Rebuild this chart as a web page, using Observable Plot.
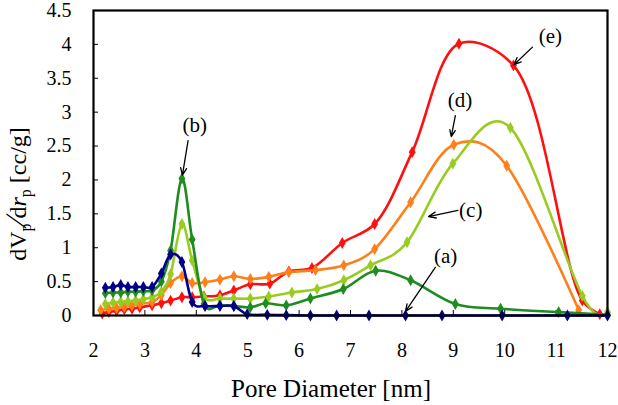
<!DOCTYPE html>
<html><head><meta charset="utf-8">
<script src="https://cdn.jsdelivr.net/npm/d3@7"></script>
<script src="https://cdn.jsdelivr.net/npm/@observablehq/plot@0.6"></script>
<style>
body{margin:0;background:#fff}
#chart svg{display:block}
</style>
</head><body><div id="chart"></div>
<script>
const xTicks = [2,3,4,5,6,7,8,9,10,11,12];
const yTicks = [0,0.5,1,1.5,2,2.5,3,3.5,4,4.5];

const keys = ["a","b","c","d","e"];
const colors = ["#00008B","#1E8C1E","#99CC22","#FF7F1A","#FF1010"];

const xA = [2.23,2.38,2.53,2.67,2.82,2.97,3.14,3.32,3.50,3.72,3.92,4.17,4.46,4.73,4.99,5.38,5.75,6.22,6.73,7.36,8.07,8.78,9.95,11.22,12.0];
const yA = [0.41,0.42,0.45,0.42,0.42,0.42,0.42,0.62,0.90,0.79,0.20,0.14,0.14,0.14,0.02,0.01,0.005,0,0,0,0,0,0,0,0];

const xB = [2.23,2.38,2.53,2.67,2.82,2.97,3.14,3.32,3.50,3.72,3.92,4.15,4.46,4.73,5.05,5.35,5.75,6.22,6.86,7.49,8.17,9.04,9.92,11.05,12.0];
const yB = [0.33,0.34,0.34,0.35,0.35,0.36,0.37,0.50,0.96,2.02,1.12,0.17,0.15,0.14,0.12,0.18,0.15,0.25,0.39,0.66,0.52,0.17,0.10,0.05,0.01];

const xC = [2.23,2.38,2.53,2.67,2.82,2.97,3.14,3.32,3.50,3.72,3.92,4.15,4.46,4.73,5.05,5.41,5.86,6.35,6.87,7.39,8.10,8.99,10.11,11.51,12.0];
const yC = [0.17,0.19,0.20,0.21,0.22,0.24,0.27,0.35,0.61,1.35,0.81,0.27,0.25,0.25,0.25,0.28,0.34,0.39,0.52,0.74,1.08,2.24,2.77,0.29,0.05];

const xD = [2.14,2.30,2.45,2.60,2.75,2.90,3.14,3.32,3.50,3.72,3.92,4.17,4.46,4.73,5.05,5.41,5.80,6.32,6.87,7.47,8.17,9.01,10.04,11.44];
const yD = [0.08,0.10,0.11,0.13,0.15,0.17,0.20,0.30,0.48,0.58,0.48,0.49,0.53,0.58,0.54,0.57,0.64,0.67,0.74,0.98,1.67,2.52,2.21,0.08];

const xE = [2.17,2.30,2.45,2.60,2.75,2.90,3.14,3.32,3.50,3.72,3.92,4.15,4.46,4.73,5.05,5.43,5.80,6.25,6.84,7.47,8.20,9.11,10.17,11.51,11.85];
const yE = [0.03,0.05,0.07,0.09,0.10,0.12,0.15,0.18,0.22,0.27,0.27,0.28,0.30,0.37,0.46,0.47,0.65,0.70,1.07,1.35,2.41,4.01,3.69,0.22,0.02];

// annotation labels and arrows (data coordinates)
const annLabels = ["(a)","(b)","(c)","(d)","(e)"];
const annTextX = [8.85,3.97,9.34,9.13,10.89];
const annTextY = [0.87,2.80,1.56,3.17,4.12];
const arrX1 = [8.65,3.84,9.09,9.04,10.54];
const arrY1 = [0.71,2.58,1.55,2.95,3.96];
const arrX2 = [8.07,3.73,8.52,8.96,10.18];
const arrY2 = [0.06,2.07,1.46,2.64,3.70];

const seriesX = [xA,xB,xC,xD,xE];
const seriesY = [yA,yB,yC,yD,yE];
const series = keys.map((k,i)=>seriesX[i].map((x,j)=>({key:k, x, y:seriesY[i][j]})));
const ann = annLabels.map((t,i)=>({t, tx:annTextX[i], ty:annTextY[i], x1:arrX1[i], y1:arrY1[i], x2:arrX2[i], y2:arrY2[i]}));

const drawOrder = [4,3,2,1,0];
const curves = [d3.curveCatmullRom.alpha(0), d3.curveCatmullRom.alpha(0), d3.curveCatmullRom.alpha(0), d3.curveCatmullRom.alpha(0), d3.curveCatmullRom.alpha(0.5)];
const FONT = "Liberation Serif";

const plot = Plot.plot({
  width: 618, height: 405,
  marginLeft: 93, marginRight: 11, marginTop: 10, marginBottom: 90,
  style: {fontFamily: FONT, fontSize: "20px", background: "white", color: "black"},
  x: {domain: [2,12], label: null},
  y: {domain: [0,4.5], label: null},
  color: {domain: keys, range: colors},
  marks: [
    Plot.axisX({ticks: xTicks, tickSize: 0, tickPadding: 27, label: null, fontSize: 20, tickFormat: d => String(d)}),
    Plot.axisY({ticks: yTicks, tickSize: 0, tickPadding: 22, label: null, fontSize: 20, tickFormat: d => String(d)}),
    Plot.axisX({ticks: xTicks, tickSize: 5, dy: -5, label: null, tickFormat: () => "", strokeWidth: 1}),
    Plot.axisY({ticks: yTicks, tickSize: 5, dx: 5, label: null, tickFormat: () => "", strokeWidth: 1}),
    ...drawOrder.flatMap(i => [
      Plot.line(series[i], {x: "x", y: "y", stroke: "key", curve: curves[i], strokeWidth: 2.6}),
      Plot.dot(series[i], {x: "x", y: "y", fill: "key", symbol: "diamond", r: 3.6, stroke: "none"})
    ]),
    Plot.frame({stroke: "black", strokeWidth: 2.2}),
    Plot.arrow(ann, {x1: "x1", y1: "y1", x2: "x2", y2: "y2", stroke: "black", strokeWidth: 1.3, headLength: 9, headAngle: 45}),
    Plot.text(ann, {x: "tx", y: "ty", text: "t", fontSize: 21, fill: "black"})
  ]
});
document.getElementById("chart").appendChild(plot);

const svg = d3.select(plot);
svg.append("text")
  .attr("x", 331).attr("y", 397)
  .attr("text-anchor", "middle")
  .attr("font-family", FONT)
  .style("font-size", "25px")
  .text("Pore Diameter [nm]");

const yl = svg.append("text")
  .attr("transform", "translate(26,194) rotate(-90)")
  .attr("text-anchor", "middle")
  .attr("font-family", FONT)
  .style("font-size", "24px");
yl.append("tspan").text("dV");
yl.append("tspan").attr("dy", 5).style("font-size", "16px").text("p");
yl.append("tspan").attr("dy", -5).style("font-size", "30px").text("∕");
yl.append("tspan").text("d");
yl.append("tspan").style("font-style", "italic").text("r");
yl.append("tspan").attr("dy", 5).style("font-size", "16px").text("p");
yl.append("tspan").attr("dy", -5).text(" [cc/g]");
</script>
</body></html>
